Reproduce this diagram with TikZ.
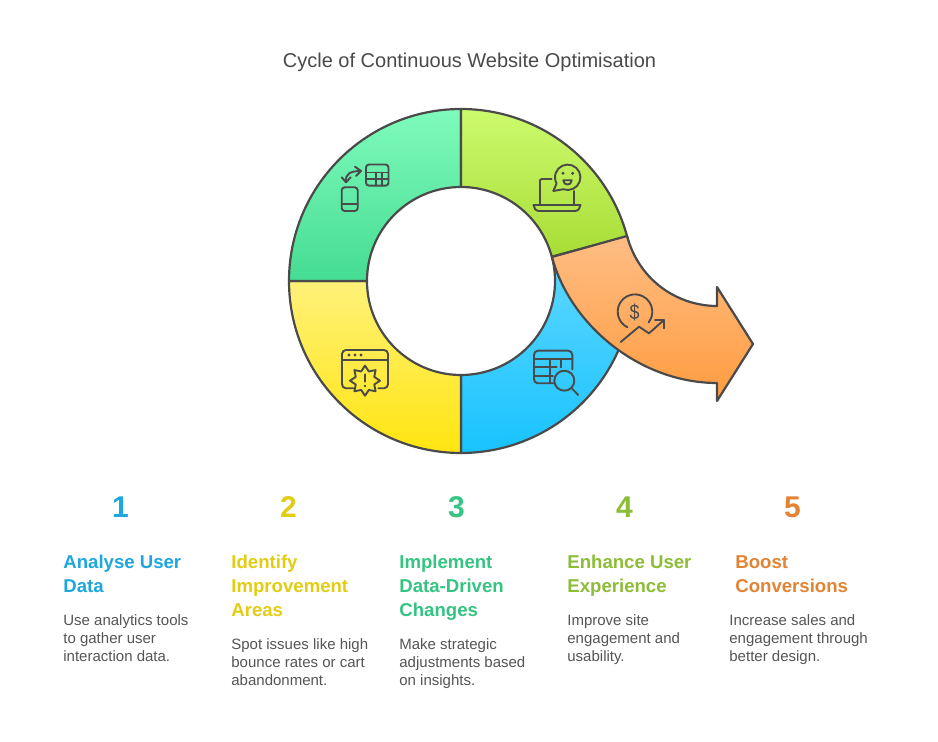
\documentclass[tikz,border=0pt]{standalone}
\usepackage{fontspec}
\setmainfont{Liberation Sans}
\usetikzlibrary{calc}
\definecolor{ink}{HTML}{4A4A4A}
\definecolor{bodyink}{HTML}{555555}
\definecolor{cA}{HTML}{1EA7DC}
\definecolor{cB}{HTML}{E2CD12}
\definecolor{cC}{HTML}{35C482}
\definecolor{cD}{HTML}{8DBD37}
\definecolor{cE}{HTML}{E38333}
\definecolor{blueT}{HTML}{66D9FF}
\definecolor{blueB}{HTML}{18C3FF}
\definecolor{yelT}{HTML}{FFF17A}
\definecolor{yelB}{HTML}{FFE50F}
\definecolor{grnT}{HTML}{7FFBBB}
\definecolor{grnB}{HTML}{45DC92}
\definecolor{limT}{HTML}{CCFA6E}
\definecolor{limB}{HTML}{A8DD35}
\definecolor{orgT}{HTML}{FFBD84}
\definecolor{orgB}{HTML}{FF9C3F}
\tikzset{
  seg/.style={draw=ink,line width=1.1pt,line join=round},
  ico/.style={draw=ink,line width=.95pt,line join=round,line cap=round},
  dotmark/.style={fill=ink,draw=none},
  numtxt/.style={inner sep=0pt,anchor=base,font=\fontsize{15}{18}\selectfont\bfseries},
  headtxt/.style={inner sep=0pt,anchor=base west,align=left,font=\fontsize{9.3}{12}\selectfont\bfseries},
  bodytxt/.style={inner sep=0pt,anchor=base west,align=left,text=bodyink,font=\fontsize{7.5}{9}\selectfont},
}
\begin{document}
\begin{tikzpicture}[x=.5pt,y=.5pt]
\useasboundingbox (0,0) rectangle (938,-742);
\fill[white] (0,0) rectangle (938,-742);
\coordinate (ctr) at (461,-281);
\node[inner sep=0pt,anchor=base,text=ink,font=\fontsize{10}{12}\selectfont] (title) at (469.5,-68) {Cycle of Continuous Website Optimisation};
% ring segments
\path[seg,top color=blueT,bottom color=blueB]
  ($(ctr)+(270:172)$) arc[start angle=270,end angle=375,radius=172] -- ($(ctr)+(15:94)$) arc[start angle=15,end angle=-90,radius=94] -- cycle;
\path[seg,top color=yelT,bottom color=yelB]
  ($(ctr)+(180:172)$) arc[start angle=180,end angle=270,radius=172] -- ($(ctr)+(270:94)$) arc[start angle=270,end angle=180,radius=94] -- cycle;
\path[seg,top color=grnT,bottom color=grnB]
  ($(ctr)+(90:172)$) arc[start angle=90,end angle=180,radius=172] -- ($(ctr)+(180:94)$) arc[start angle=180,end angle=90,radius=94] -- cycle;
\path[seg,top color=limT,bottom color=limB]
  ($(ctr)+(15:172)$) arc[start angle=15,end angle=90,radius=172] -- ($(ctr)+(90:94)$) arc[start angle=90,end angle=15,radius=94] -- cycle;
% arrow
\path[seg,top color=orgT,bottom color=orgB]
  (627,-236) .. controls (640,-283) and (680,-306) .. (717,-306) -- (717,-287) -- (753,-344) -- (717,-401) -- (717,-383)
  .. controls (640,-383) and (570,-325) .. (552,-257) -- cycle;
% green icon
\draw[ico,rounded corners=1.5] (366,-164.5) rectangle (388.5,-185.7);
\draw[ico] (366,-172.5) -- (388.5,-172.5) (376,-172.5) -- (376,-185.7) (382,-172.5) -- (382,-185.7) (366,-179) -- (388.5,-179);
\draw[ico,rounded corners=1.5] (341.7,-187.3) rectangle (357.7,-211);
\draw[ico] (341.7,-204.3) -- (357.7,-204.3);
\draw[ico] (346,-182) .. controls (345,-174) and (350,-171) .. (361,-171);
\draw[ico] (355,-166.7) -- (361,-171) -- (356,-176);
\draw[ico] (341.7,-177.3) -- (346,-182.3) -- (350.7,-177.3);
% lime icon
\coordinate (sm) at (567.7,-177.3);
\draw[ico] ($(sm)+(250:12.7)$) arc[start angle=250,end angle=569,radius=12.7] -- (553.3,-191) -- cycle;
\fill[dotmark] (563,-173.3) circle (1.7) (572.7,-173.3) circle (1.7);
\draw[ico] (563.3,-180.3) -- (571.7,-180.3) .. controls (571.5,-186) and (563.5,-186) .. cycle;
\draw[ico] (551.7,-179) -- (542,-179) .. controls (540.5,-179) and (540,-180) .. (540,-181) -- (540,-205);
\draw[ico] (574,-191) -- (574,-205);
\draw[ico] (533.5,-205) -- (580.5,-205) .. controls (580.5,-208) and (578,-211) .. (575,-211) -- (539,-211) .. controls (536,-211) and (533.5,-208) .. cycle;
% orange icon
\coordinate (coin) at (635,-311.7);
\draw[ico] ($(coin)+(244:17.3)$) arc[start angle=244,end angle=-38,radius=17.3];
\node[inner sep=0pt,text=ink,xscale=.85,font=\fontsize{10.5}{12}\selectfont] (dollar) at (634.5,-312) {\$};
\draw[ico] (620.7,-342) -- (639,-326.7) -- (649,-333.3) -- (664,-320);
\draw[ico] (655,-319.7) -- (664,-319.7) -- (664,-328.3);
% yellow icon
\draw[ico,rounded corners=2] (353.3,-388.3) -- (342,-388.3) -- (342,-350) -- (388,-350) -- (388,-388.3) -- (378.3,-388.3);
\draw[ico] (342,-360) -- (388,-360);
\fill[dotmark] (349,-355) circle (1.6) (355,-355) circle (1.6) (361,-355) circle (1.6);
\coordinate (burst) at (365,-380.7);
\draw[ico] ($(burst)+(90:15)$) -- ($(burst)+(67.5:10)$) -- ($(burst)+(45:15)$) -- ($(burst)+(22.5:10)$) -- ($(burst)+(0:15)$) -- ($(burst)+(-22.5:10)$) -- ($(burst)+(-45:15)$) -- ($(burst)+(-67.5:10)$) -- ($(burst)+(-90:15)$) -- ($(burst)+(-112.5:10)$) -- ($(burst)+(-135:15)$) -- ($(burst)+(-157.5:10)$) -- ($(burst)+(180:15)$) -- ($(burst)+(157.5:10)$) -- ($(burst)+(135:15)$) -- ($(burst)+(112.5:10)$) -- cycle;
\draw[ico] (365,-374.3) -- (365,-381.7);
\fill[dotmark] (365,-386) circle (1.4);
% blue icon
\draw[ico,rounded corners=2] (553.3,-383.3) -- (534,-383.3) -- (534,-350.7) -- (572.3,-350.7) -- (572.3,-369.3);
\draw[ico] (534,-359.3) -- (572.3,-359.3) (534,-367.3) -- (556.7,-367.3) (534,-375.7) -- (553,-375.7) (550,-359.3) -- (550,-383.3) (560.7,-359.3) -- (560.7,-367.3);
\draw[ico] (564.3,-380.7) circle (10);
\draw[ico] (571.7,-388.3) -- (578.3,-395);
% numbers
\node[numtxt,text=cA] (n1) at (120.5,-518) {1};
\node[numtxt,text=cB] (n2) at (288.5,-518) {2};
\node[numtxt,text=cC] (n3) at (456.5,-518) {3};
\node[numtxt,text=cD] (n4) at (624.5,-518) {4};
\node[numtxt,text=cE] (n5) at (792.5,-518) {5};
% headings
\node[headtxt,text=cA] (h1) at (63,-592.5) {Analyse User\\Data};
\node[headtxt,text=cB] (h2) at (231,-616.5) {Identify\\Improvement\\Areas};
\node[headtxt,text=cC] (h3) at (399,-616.5) {Implement\\Data-Driven\\Changes};
\node[headtxt,text=cD] (h4) at (567,-592.5) {Enhance User\\Experience};
\node[headtxt,text=cE] (h5) at (735,-592.5) {Boost\\Conversions};
% bodies
\node[bodytxt] (b1) at (63,-661.7) {Use analytics tools\\to gather user\\interaction data.};
\node[bodytxt] (b2) at (231,-686) {Spot issues like high\\bounce rates or cart\\abandonment.};
\node[bodytxt] (b3) at (399,-686) {Make strategic\\adjustments based\\on insights.};
\node[bodytxt] (b4) at (567,-661.7) {Improve site\\engagement and\\usability.};
\node[bodytxt] (b5) at (729,-661.7) {Increase sales and\\engagement through\\better design.};
\end{tikzpicture}
\end{document}
